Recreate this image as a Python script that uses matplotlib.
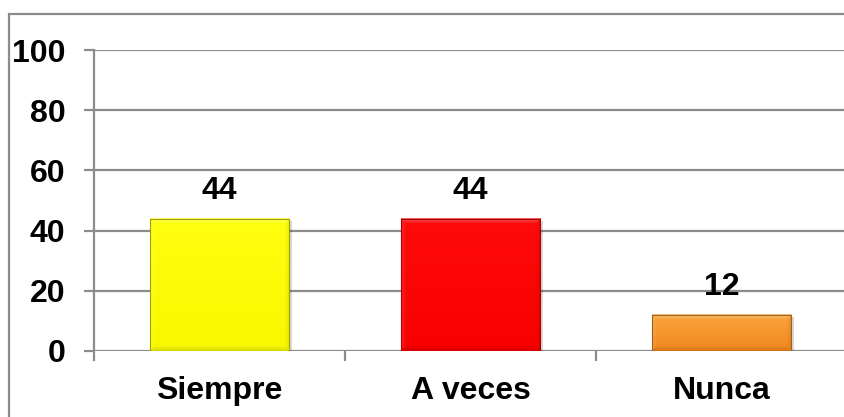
import matplotlib
matplotlib.use("Agg")
import matplotlib.pyplot as plt
import numpy as np
from matplotlib.patches import Rectangle
from matplotlib.colors import to_rgb

categories = ["Siempre", "A veces", "Nunca"]
values = [44, 44, 12]
top_colors = ["#FFFF10", "#FF0A0A", "#FAA43A"]
bottom_colors = ["#F8F800", "#F80000", "#F2871E"]
edge_colors = ["#A0A000", "#A80000", "#A0601A"]
yticks = [0, 20, 40, 60, 80, 100]

plt.rcParams['font.family'] = ['Liberation Sans', 'DejaVu Sans']
plt.rcParams['font.weight'] = 'bold'

W, H, DPI = 845, 417, 100
fig = plt.figure(figsize=(W / DPI, H / DPI), dpi=DPI)
fig.patch.set_facecolor("white")

# chart area frame (runs off the right and bottom edges)
fig.patches.append(Rectangle((9 / W, -0.2), 1.2, (H - 14) / H + 0.2,
                             transform=fig.transFigure, fill=False,
                             edgecolor="#8C8C8C", linewidth=1.6, clip_on=False))

ax = fig.add_axes([94 / W, 66 / H, 753 / W, 301 / H])
ax.set_facecolor("white")

x = np.arange(len(categories))
bar_w = 0.555
ax_wpx = 753 / 3.0   # px per category
ax_hpx = 301 / 100.0  # px per unit


def bevel_image(top, bottom, hpx, wpx, b=5):
    hpx, wpx = max(int(round(hpx)), 2), max(int(round(wpx)), 2)
    t = np.linspace(0, 1, hpx)[:, None, None]
    base = (1 - t) * np.array(to_rgb(top)) + t * np.array(to_rgb(bottom))
    base = np.broadcast_to(base, (hpx, wpx, 3)).copy()
    rows = np.broadcast_to(np.arange(hpx)[:, None], (hpx, wpx))
    cols = np.broadcast_to(np.arange(wpx)[None, :], (hpx, wpx))
    d = np.stack([rows, hpx - 1 - rows, cols, wpx - 1 - cols])
    nearest = d.argmin(axis=0)
    dist = d.min(axis=0)
    fade = np.clip(1 - dist / b, 0, 1)
    img = base
    white = np.ones(3)
    black = np.zeros(3)
    # top light, bottom dark, left slightly light, right slightly dark
    mix = [(white, 0.35), (black, 0.12), (white, 0.12), (black, 0.08)]
    for k, (c, a) in enumerate(mix):
        m = nearest == k
        w = (fade * a)[m][:, None]
        img[m] = img[m] * (1 - w) + c * w
    return img


for i, v in enumerate(values):
    x0 = x[i] - bar_w / 2
    # soft shadow
    ax.add_patch(Rectangle((x0 + 0.01, -0.7), bar_w, v, facecolor="#000000",
                           alpha=0.15, edgecolor="none", zorder=2))
    img = bevel_image(top_colors[i], bottom_colors[i], v * ax_hpx, bar_w * ax_wpx)
    ax.imshow(img, extent=(x0, x0 + bar_w, 0, v), aspect="auto", zorder=3,
              interpolation="bilinear")
    ax.add_patch(Rectangle((x0, 0), bar_w, v, fill=False,
                           edgecolor=edge_colors[i], linewidth=0.8, zorder=4))
    ax.text(x[i], v + 4.3, str(v), ha="center", va="bottom", fontsize=23,
            fontweight="bold", color="black", zorder=5)

ax.set_xlim(-0.5, 2.5)
ax.set_ylim(0, 100)
ax.set_yticks(yticks)
ax.set_xticks(x)
ax.set_xticklabels(categories)
ax.set_xticks([0.5, 1.5, 2.5], minor=True)

ax.yaxis.grid(True, color="#8C8C8C", linewidth=1.6, zorder=0)
ax.set_axisbelow(True)
for s in ["top", "right", "bottom"]:
    ax.spines[s].set_visible(False)
ax.spines["left"].set_color("#8C8C8C")
ax.spines["left"].set_linewidth(1.6)
ax.spines["left"].set_bounds(-3, 100)

ax.tick_params(axis="y", length=7.5, width=1.6, color="#8C8C8C", pad=13,
               labelsize=23, direction="out")
ax.tick_params(axis="x", which="major", length=0, pad=18, labelsize=23)
ax.tick_params(axis="x", which="minor", length=7, width=1.6, color="#8C8C8C",
               direction="out")
for lab in ax.get_xticklabels() + ax.get_yticklabels():
    lab.set_fontweight("bold")

fig.savefig("out.png", dpi=DPI)
